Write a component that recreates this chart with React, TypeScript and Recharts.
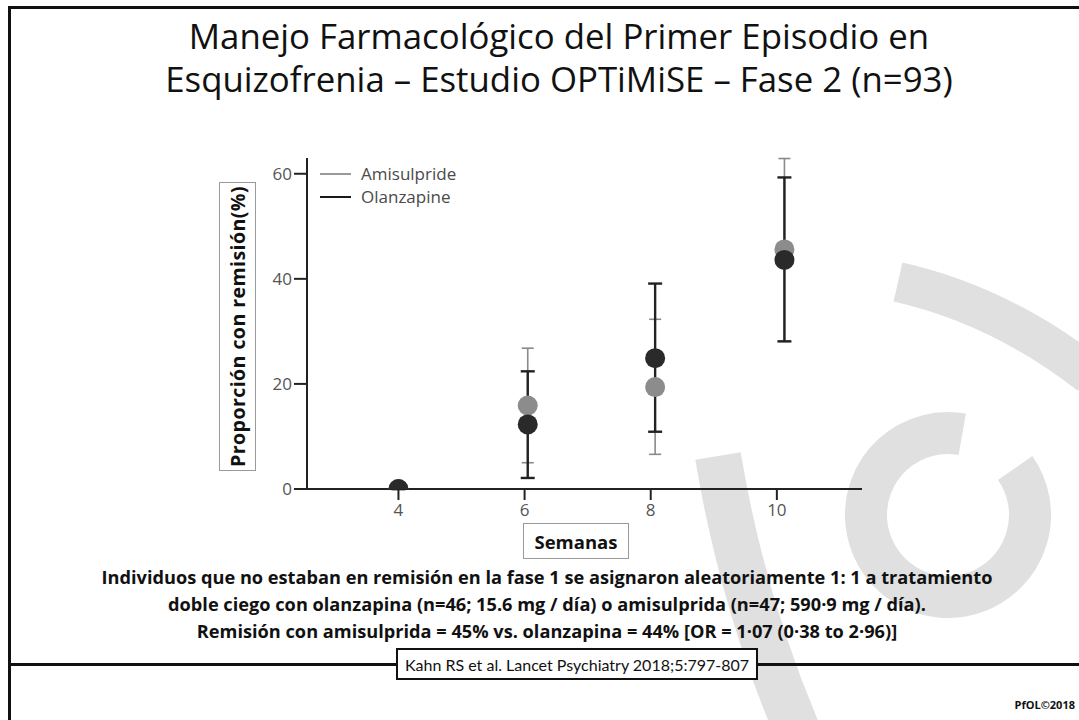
import React from 'react';
import { ScatterChart, Scatter, XAxis, YAxis, ErrorBar, Legend } from 'recharts';

// ---- data ----
const weekTicks = [4, 6, 8, 10];
const pointWeeks = [4, 6.05, 8.07, 10.12];
const yTicks = [0, 20, 40, 60];

const amisulpride = [0, 15.9, 19.4, 45.6];
const amiLow = [0, 5.0, 6.6, 28.1];
const amiHigh = [0, 26.8, 32.3, 62.9];

const olanzapine = [0, 12.3, 24.9, 43.6];
const olaLow = [0, 2.1, 10.9, 28.1];
const olaHigh = [0, 22.4, 39.1, 59.3];

const seriesNames = ['Amisulpride', 'Olanzapine'];
const seriesColors = ['#8c8c8c', '#2a2a2a'];
const lineColors = ['#9a9a9a', '#1a1a1a'];

const titleLines = [
  'Manejo Farmacológico del Primer Episodio en',
  'Esquizofrenia – Estudio OPTiMiSE – Fase 2 (n=93)',
];
const noteLines = [
  'Individuos que no estaban en remisión en la fase 1 se asignaron aleatoriamente 1: 1 a tratamiento',
  'doble ciego con olanzapina (n=46; 15.6 mg / día) o amisulprida (n=47; 590·9 mg / día).',
  'Remisión con amisulprida = 45% vs. olanzapina = 44% [OR = 1·07 (0·38 to 2·96)]',
];
const yLabel = 'Proporción con remisión(%)';
const xLabel = 'Semanas';
const citation = 'Kahn RS et al. Lancet Psychiatry 2018;5:797-807';
const credit = 'PfOL©2018';

const build = (vals: number[], lo: number[], hi: number[]) =>
  pointWeeks.map((w, i) => ({ week: w, value: vals[i], err: [vals[i] - lo[i], hi[i] - vals[i]] }));

const amiData = build(amisulpride, amiLow, amiHigh);
const olaData = build(olanzapine, olaLow, olaHigh);

const FONT = '"Open Sans", Lato, sans-serif';
const LATO = 'Lato, "Open Sans", sans-serif';

const nothing = (props: any) => <g />;
const dot = (color: string) => (props: any) =>
  <circle cx={props.cx} cy={props.cy} r={10} fill={color} />;

const renderLegend = () => (
  <div style={{ fontFamily: FONT, fontSize: 17, color: '#4a4a4a', lineHeight: '23px' }}>
    {seriesNames.map((n, i) => (
      <div key={n} style={{ display: 'flex', alignItems: 'center' }}>
        <span style={{ display: 'inline-block', width: 31, height: 0, borderTop: `2px solid ${lineColors[i]}`, marginRight: 10 }} />
        <span>{n}</span>
      </div>
    ))}
  </div>
);

// arc helper for the watermark
const arcPath = (cx: number, cy: number, r: number, a0: number, a1: number) => {
  const p = (a: number) => [cx + r * Math.cos((a * Math.PI) / 180), cy + r * Math.sin((a * Math.PI) / 180)];
  const [x0, y0] = p(a0);
  const [x1, y1] = p(a1);
  const large = Math.abs(a1 - a0) > 180 ? 1 : 0;
  return `M ${x0} ${y0} A ${r} ${r} 0 ${large} 1 ${x1} ${y1}`;
};

export default function App() {
  return (
    <div style={{ position: 'absolute', left: 0, top: 0, width: 1079, height: 720, background: '#fff', overflow: 'hidden', fontFamily: FONT }}>
      {/* watermark */}
      <svg width={1079} height={720} style={{ position: 'absolute', left: 0, top: 0 }}>
        <g fill="none" stroke="#e0e0e0">
          <path d="M 898 282 Q 1000 305 1090 375" strokeWidth={40} />
          <path d="M 718 456 Q 742 600 797 730" strokeWidth={46} />
          <path d={arcPath(948, 515, 82, -35, 280)} strokeWidth={42} />
        </g>
      </svg>

      {/* slide frame */}
      <div style={{ position: 'absolute', left: 8, top: 6, width: 1079, height: 720, borderLeft: '3px solid #111', borderTop: '3px solid #111' }} />
      <div style={{ position: 'absolute', left: 8, top: 663, width: 1079, height: 0, borderTop: '3px solid #111' }} />

      {/* title */}
      <div style={{ position: 'absolute', left: 0, top: 14, width: 1118, textAlign: 'center', fontSize: 34.8, lineHeight: '43px', color: '#111' }}>
        {titleLines.map((t) => <div key={t}>{t}</div>)}
      </div>

      {/* chart */}
      <div style={{ position: 'absolute', left: 0, top: 0 }}>
        <ScatterChart width={1079} height={720} margin={{ top: 158, right: 217, left: 247, bottom: 201 }}>
          <XAxis
            type="number"
            dataKey="week"
            domain={[2.55, 11.35]}
            allowDataOverflow
            ticks={weekTicks}
            height={30}
            tickSize={11}
            tickMargin={4}
            axisLine={{ stroke: '#222', strokeWidth: 2 }}
            tickLine={{ stroke: '#222', strokeWidth: 2 }}
            tick={{ fill: '#555', fontSize: 17, fontFamily: FONT }}
          />
          <YAxis
            type="number"
            dataKey="value"
            domain={[0, 63]}
            allowDataOverflow
            ticks={yTicks}
            width={60}
            tickSize={13}
            axisLine={{ stroke: '#222', strokeWidth: 2 }}
            tickLine={{ stroke: '#222', strokeWidth: 2 }}
            tick={{ fill: '#555', fontSize: 17, fontFamily: FONT }}
          />
          <Legend
            layout="vertical"
            verticalAlign="middle"
            align="center"
            content={renderLegend}
            wrapperStyle={{ position: 'absolute', left: 320, top: 162, width: 200, height: 50 }}
          />
          <Scatter name="Amisulpride IC" data={amiData} shape={nothing} isAnimationActive={false} legendType="none">
            <ErrorBar dataKey="err" direction="y" width={6} stroke="#8a8a8a" strokeWidth={1.6} />
          </Scatter>
          <Scatter name="Olanzapine IC" data={olaData} shape={nothing} isAnimationActive={false} legendType="none">
            <ErrorBar dataKey="err" direction="y" width={7} stroke="#222" strokeWidth={2.4} />
          </Scatter>
          <Scatter name={seriesNames[0]} data={amiData} shape={dot(seriesColors[0])} isAnimationActive={false} />
          <Scatter name={seriesNames[1]} data={olaData} shape={dot(seriesColors[1])} isAnimationActive={false} />
        </ScatterChart>
      </div>

      {/* y label box */}
      <div style={{ position: 'absolute', left: 219, top: 182, width: 35, height: 287, border: '1px solid #9a9a9a', background: '#fff', display: 'flex', alignItems: 'center', justifyContent: 'center' }}>
        <div style={{ transform: 'rotate(-90deg)', whiteSpace: 'nowrap', fontWeight: 700, fontSize: 19.6, letterSpacing: 0.4, color: '#111' }}>{yLabel}</div>
      </div>

      {/* x label box */}
      <div style={{ position: 'absolute', left: 523, top: 523, width: 104, height: 34, border: '1px solid #9a9a9a', background: '#fff', display: 'flex', alignItems: 'center', justifyContent: 'center', fontWeight: 700, fontSize: 18.5, color: '#111' }}>
        {xLabel}
      </div>

      {/* notes */}
      <div style={{ position: 'absolute', left: 0, top: 564, width: 1094, textAlign: 'center', fontWeight: 700, fontSize: 18.2, lineHeight: '27px', color: '#111' }}>
        {noteLines.map((t) => <div key={t}>{t}</div>)}
      </div>

      {/* citation */}
      <div style={{ position: 'absolute', left: 396, top: 648, width: 358, height: 28, border: '2px solid #111', background: '#fff', display: 'flex', alignItems: 'center', justifyContent: 'center', fontSize: 16, fontFamily: LATO, color: '#111' }}>
        {citation}
      </div>

      <div style={{ position: 'absolute', right: 4, top: 697, fontWeight: 700, fontSize: 11, color: '#111' }}>{credit}</div>
    </div>
  );
}
